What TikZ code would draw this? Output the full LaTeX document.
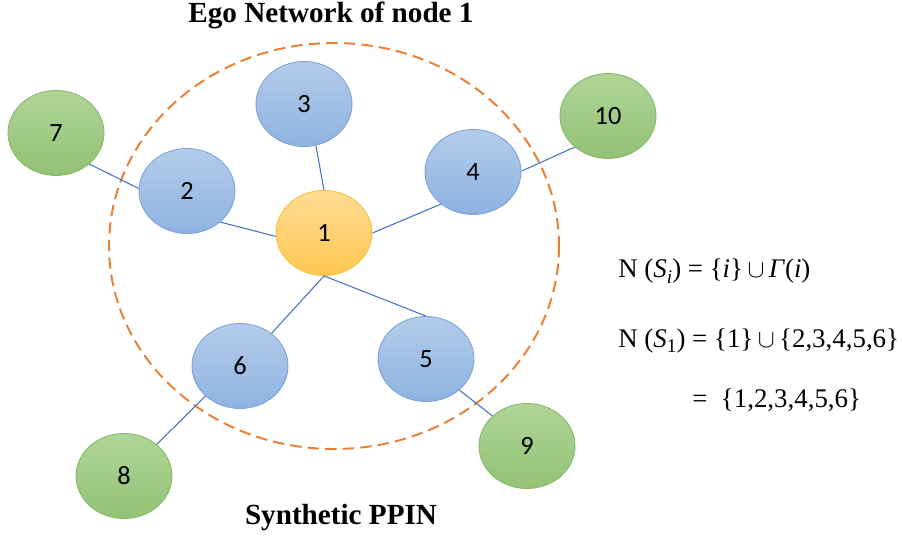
\documentclass[tikz,border=0pt]{standalone}
\usepackage{fontspec}
\setmainfont{Liberation Serif}
\newfontfamily\labelfont{Carlito}
\usetikzlibrary{shapes.geometric}

\definecolor{blueTop}{HTML}{B4CCEA}
\definecolor{blueBot}{HTML}{8EB2E0}
\definecolor{blueLine}{HTML}{7BA4D8}
\definecolor{orTop}{HTML}{FFDC94}
\definecolor{orBot}{HTML}{FFC751}
\definecolor{orLine}{HTML}{F5C040}
\definecolor{grTop}{HTML}{B0D597}
\definecolor{grBot}{HTML}{92C276}
\definecolor{grLine}{HTML}{86B96A}
\definecolor{edgeBlue}{HTML}{4472C4}
\definecolor{egoOrange}{HTML}{ED7D31}

\newcommand{\vx}[1]{\textit{#1}}
\newcommand{\lowsub}[1]{\raisebox{-0.45ex}{\fontsize{11}{11}\selectfont #1}}
\newcommand{\unionop}{\,$\cup$\,}

\tikzset{
  vertex/.style={ellipse, minimum width=1.92cm, minimum height=1.70cm, inner sep=0pt,
    line width=0.5pt, font=\labelfont\fontsize{15}{18}\selectfont},
  core/.style={vertex, draw=orLine, top color=orTop, bottom color=orBot},
  ego/.style={vertex, draw=blueLine, top color=blueTop, bottom color=blueBot},
  outer/.style={vertex, draw=grLine, top color=grTop, bottom color=grBot},
  link/.style={draw=edgeBlue, line width=0.6pt},
  egoring/.style={draw=egoOrange, line width=1.1pt, dash pattern=on 6.5pt off 3.5pt},
  caption/.style={font=\bfseries\fontsize{16.6}{19}\selectfont},
  formula/.style={anchor=base west, font=\fontsize{15.3}{18}\selectfont, inner sep=0pt}
}

\begin{document}
\begin{tikzpicture}[x=0.02cm, y=-0.02cm]
  \useasboundingbox (0,0) rectangle (902,540);

  % dashed boundary of the ego network
  \draw[egoring] (334,246) ellipse [x radius=225, y radius=203];

  % vertices
  \node[core]  (n1)  at (324,233) {1};
  \node[ego]   (n2)  at (187,191) {2};
  \node[ego]   (n3)  at (304,104) {3};
  \node[ego]   (n4)  at (473,172) {4};
  \node[ego]   (n5)  at (426,359) {5};
  \node[ego]   (n6)  at (240,366) {6};
  \node[outer] (n7)  at (56,133)  {7};
  \node[outer] (n8)  at (124,476) {8};
  \node[outer] (n9)  at (527,446) {9};
  \node[outer] (n10) at (608,116) {10};

  % edges
  \draw[link] (n1.north) -- (n3.-74);
  \draw[link] (n1.184) -- (n2.-43);
  \draw[link] (n1.east) -- (n4.-135);
  \draw[link] (n1.south) -- (n6.46);
  \draw[link] (n1.south) -- (n5.north);
  \draw[link] (n2.177) -- (n7.-43);
  \draw[link] (n4.1) -- (n10.-137);
  \draw[link] (n5.-43) -- (n9.139);
  \draw[link] (n6.-139) -- (n8.44);

  % captions
  \node[caption] (title) at (331,15) {Ego Network of node 1};
  \node[caption] (base)  at (341,518) {Synthetic PPIN};

  % neighbourhood definition
  \node[formula] (f1) at (618,278)
    {N (\vx{S}\lowsub{\vx{i}}) = \{\vx{i}\}\unionop\vx{Γ}(\vx{i})};
  \node[formula] (f2) at (618,347)
    {N (\vx{S}\lowsub{1}) = \{1\}\unionop\{2,3,4,5,6\}};
  \node[formula] (f3) at (692,407)
    {=\ \ \{1,2,3,4,5,6\}};
\end{tikzpicture}
\end{document}
